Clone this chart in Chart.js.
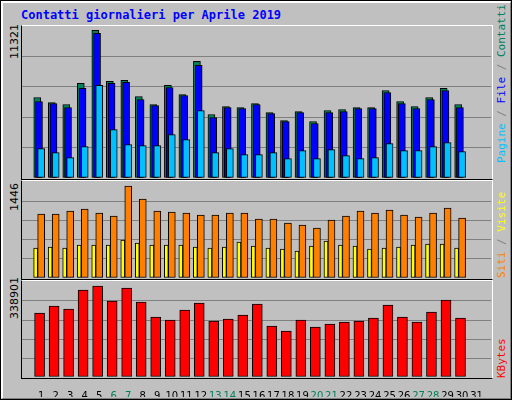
<!DOCTYPE html>
<html>
<head>
<meta charset="utf-8">
<script src="https://cdn.jsdelivr.net/npm/chart.js@4/dist/chart.umd.min.js"></script>
<style>
  body { margin: 0; background: #fff; }
  #wrap { position: relative; width: 510px; height: 398px; background: #c0c0c0;
          border: 1px solid #000; overflow: hidden; }
  #inner { position: absolute; left: 0; top: 0; width: 507px; height: 395px;
           border-top: 2px solid #fff; border-left: 2px solid #fff;
           border-right: 1px solid #808080; border-bottom: 1px solid #808080; }
  canvas { position: absolute; }
  .frame { position: absolute; border-top: 1px solid #fff; border-right: 1px solid #fff;
           border-left: 1px solid #000; border-bottom: 1px solid #000; box-sizing: border-box; }
  .rot { position: absolute; transform-origin: 0 0; transform: rotate(-90deg); white-space: nowrap; }
  .left { font: 11px "DejaVu Sans", sans-serif; color: #000; }
  .right { font: 11px "DejaVu Sans Mono", "Liberation Mono", monospace; color: #808080; }
  #title { position: absolute; left: 20px; top: 7px; font: bold 12px "DejaVu Sans Mono", "Liberation Mono", monospace; color: #0000ff; }
</style>
</head>
<body>
<div id="wrap">
  <div id="inner"></div>
  <div id="title">Contatti giornalieri per Aprile 2019</div>
  <div class="frame" style="left:20px;top:24px;width:472px;height:155px"></div>
  <div class="frame" style="left:20px;top:179px;width:472px;height:100px"></div>
  <div class="frame" style="left:20px;top:279px;width:472px;height:99px"></div>
  <canvas id="c1" width="469" height="152" style="left:21px;top:25px"></canvas>
  <canvas id="c2" width="469" height="96" style="left:21px;top:181px"></canvas>
  <canvas id="c3" width="469" height="115" style="left:21px;top:281px"></canvas>
  <div class="rot left" style="left:7px;top:58px">11321</div>
  <div class="rot left" style="left:7px;top:210px">1446</div>
  <div class="rot left" style="left:7px;top:318px">338901</div>
  <div class="rot right" style="left:494px;top:162px"><span style="color:#00c0ff">Pagine</span> / <span style="color:#0000ff">File</span> / <span style="color:#00805c">Contatti</span></div>
  <div class="rot right" style="left:494px;top:277px"><span style="color:#ff8000">Siti</span> / <span style="color:#ffff00">Visite</span></div>
  <div class="rot right" style="left:494px;top:377px"><span style="color:#ff0000">KBytes</span></div>
</div>
<script>
const days = Array.from({ length: 31 }, (_, i) => i + 1);
const weekendDays = [6, 7, 13, 14, 20, 21, 27, 28];

const hits = [6172, 5788, 5634, 7248, 11321, 7401, 7478, 6249, 5634, 7094, 6403, 8938, 4866, 5481, 5404,
              5711, 5020, 4405, 5096, 4328, 5173, 5250, 5404, 5404, 6710, 5865, 5481, 6172, 6864, 5634];
const files = [5865, 5711, 5404, 6864, 11089, 7248, 7325, 6018, 5557, 6940, 6326, 8631, 4635, 5404, 5327,
               5634, 4943, 4328, 5020, 4174, 5020, 5096, 5327, 5327, 6556, 5711, 5327, 6018, 6710, 5404];
const pages = [2254, 1946, 1562, 2407, 7094, 3713, 2561, 2484, 2484, 3329, 2945, 5173, 1946, 2254, 1793,
               1793, 1946, 1485, 2100, 1485, 2177, 1716, 1485, 1562, 2638, 2100, 2100, 2407, 2715, 2023];
const visits = [472, 487, 472, 519, 519, 519, 597, 550, 519, 519, 519, 487, 472, 487, 566,
                503, 472, 456, 424, 503, 582, 519, 503, 456, 472, 487, 519, 534, 534, 472];
const sites = [1006, 1006, 1053, 1084, 1022, 974, 1446, 1242, 1053, 1037, 1022, 990, 990, 1022, 1022,
               927, 927, 864, 833, 786, 912, 974, 1053, 1022, 1069, 990, 959, 1022, 1100, 943];
const kbytes = [238349, 264418, 253246, 324005, 338901, 283039, 331454, 279315, 223452, 212279, 249521, 275591, 208555, 216004, 230900,
                271867, 189934, 171313, 212279, 186210, 197383, 204831, 208555, 219728, 268142, 223452, 204831, 242073, 286763, 219728];

// turns a series into {x, y} points, shifted inside the day slot
function pts(values, shift) {
    return values.map((v, i) => ({ x: days[i] + shift, y: v }));
}

function bar(values, shift, color, width) {
    return {
        data: pts(values, shift),
        backgroundColor: color,
        borderColor: '#000',
        borderWidth: 1,
        borderSkipped: false,
        barThickness: width,
        grouped: false
    };
}

function makeChart(id, datasets, yMax, showX) {
    new Chart(document.getElementById(id), {
        type: 'bar',
        data: { datasets: datasets },
        options: {
            responsive: false,
            animation: false,
            layout: { padding: 0 },
            plugins: { legend: { display: false }, tooltip: { enabled: false } },
            scales: {
                x: {
                    type: 'linear',
                    min: 0.2,
                    max: 31.47,
                    display: showX,
                    grid: { display: false },
                    border: { display: false },
                    afterFit: s => { s.height = showX ? 20 : 0; },
                    afterBuildTicks: s => { s.ticks = days.map(d => ({ value: d })); },
                    ticks: {
                        autoSkip: false,
                        maxRotation: 0,
                        padding: 5,
                        font: { family: 'DejaVu Sans', size: 10 },
                        color: c => weekendDays.includes(c.tick.value) ? '#00805c' : '#000',
                        callback: v => String(v)
                    }
                },
                y: {
                    min: 0,
                    max: yMax,
                    ticks: { display: false, stepSize: yMax / 5 },
                    grid: { color: c => (c.tick.value > 0 && c.tick.value < yMax - 1) ? '#808080' : 'rgba(0,0,0,0)', lineWidth: 1, drawTicks: false },
                    border: { display: false },
                    afterFit: s => { s.width = 0; }
                }
            }
        }
    });
}

makeChart('c1', [
    bar(pages, 0, '#00c0ff', 7),
    bar(files, -0.15, '#0000ff', 7),
    bar(hits, -0.27, '#00805c', 7)
], 11651, false);

makeChart('c2', [
    bar(visits, -0.38, '#ffff00', 4),
    bar(sites, 0, '#ff8000', 7)
], 1509, false);

makeChart('c3', [
    bar(kbytes, -0.11, '#ff0000', 10)
], 353800, true);
</script>
</body>
</html>
